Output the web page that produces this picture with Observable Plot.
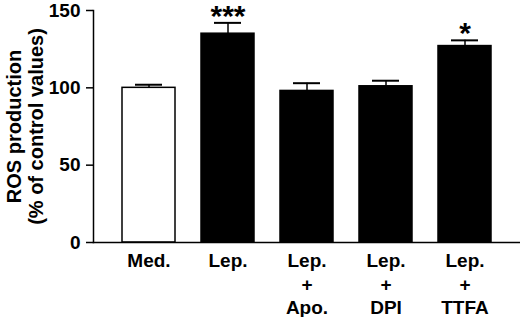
<!DOCTYPE html>
<html>
<head>
<meta charset="utf-8">
<script src="https://cdn.jsdelivr.net/npm/d3@7"></script>
<script src="https://cdn.jsdelivr.net/npm/@observablehq/plot@0.6"></script>
<style>
  html, body { margin: 0; padding: 0; background: #fff; }
</style>
</head>
<body>
<div id="chart"></div>
<script>
const categories = ["Med.", "Lep.", "Lep.\n+\nApo.", "Lep.\n+\nDPI", "Lep.\n+\nTTFA"];
const values = [100, 135, 98, 101, 127];
const errors = [2, 7, 5, 3.6, 3.7];
const fills = ["white", "black", "black", "black", "black"];
const stars = ["", "***", "", "", "*"];
const yTicks = [0, 50, 100, 150];
const yLabel = "ROS production\n(% of control values)";

const data = categories.map((c, i) => ({c, v: values[i], e: errors[i], top: values[i] + errors[i], f: fills[i], s: stars[i]}));

const chart = Plot.plot({
  width: 520,
  height: 317,
  marginLeft: 93,
  marginRight: 0,
  marginTop: 10,
  marginBottom: 75,
  style: {fontFamily: "'Liberation Sans', Arial, sans-serif", fontWeight: "bold", fontSize: "19px", color: "black", background: "white"},
  x: {domain: categories, paddingInner: 0.335, paddingOuter: 0.345, label: null},
  y: {domain: [0, 150], label: null},
  marks: [
    Plot.barY(data, {x: "c", y: "v", fill: "f", stroke: "black", strokeWidth: 1.5}),
    Plot.ruleX(data, {x: "c", y1: "v", y2: "top", stroke: "black", strokeWidth: 1.5}),
    Plot.tickY(data, {x: "c", y: "top", stroke: "black", strokeWidth: 2, insetLeft: 13, insetRight: 13}),
    Plot.text(data, {x: "c", y: "top", text: "s", fontSize: 30, fontWeight: "bold", lineAnchor: "bottom", dy: 3, fill: "black"}),
    Plot.frame({anchor: "left", stroke: "black", strokeWidth: 1.5}),
    Plot.frame({anchor: "bottom", stroke: "black", strokeWidth: 1.5}),
    Plot.axisY({ticks: yTicks, tickSize: 7, tickPadding: 6, fontSize: 19, fontWeight: "bold", strokeWidth: 1.5, label: null}),
    Plot.axisX({tickSize: 0, tickPadding: 8, fontSize: 19, fontWeight: "bold", lineHeight: 1.24, label: null}),
    Plot.text([yLabel], {text: d => d, frameAnchor: "left", textAnchor: "middle", rotate: -90, dx: -69, fontSize: 20, fontWeight: "bold", lineHeight: 1.1, fill: "black"})
  ]
});
document.getElementById("chart").appendChild(chart);
</script>
</body>
</html>
